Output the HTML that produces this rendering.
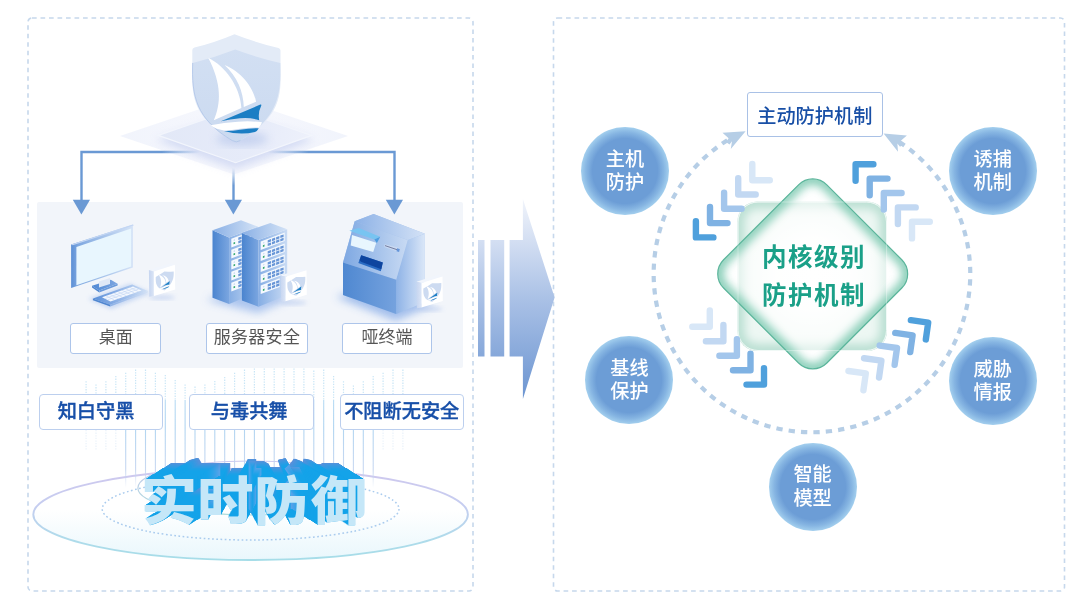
<!DOCTYPE html>
<html lang="zh-CN">
<head>
<meta charset="utf-8">
<title>实时防御</title>
<style>
html,body{margin:0;padding:0;background:#fff;}
body{width:1080px;height:611px;overflow:hidden;position:relative;
  font-family:"Liberation Sans","Noto Sans CJK SC",sans-serif;}
#stage{position:absolute;left:0;top:0;width:1080px;height:611px;overflow:hidden;will-change:transform;}
#stage svg.bg{position:absolute;left:0;top:0;}
.lab{position:absolute;box-sizing:border-box;background:#fff;border:1px solid #b3c8ea;border-radius:3px;
  text-align:center;color:#555;font-size:17px;line-height:28.500px;height:31px;width:92px;top:322.800px;border-color:#adc5ea;}
.blab{position:absolute;box-sizing:border-box;background:#fff;border:1px solid #b3c8ea;border-radius:4px;
  text-align:center;color:#174fa8;font-weight:500;-webkit-text-stroke:0.350px #174fa8;font-size:19.200px;line-height:34px;height:36.300px;width:124.500px;top:394px;border-color:#bccfee;}
.ball{position:absolute;width:88px;height:88px;border-radius:50%;
  background:radial-gradient(circle closest-side,#6c9dd6 0%,#6c9dd6 74%,#86b5e2 88%,#a3cfee 100%);
  color:#fff;font-weight:500;font-size:19.200px;line-height:23.200px;text-align:center;box-sizing:border-box;padding-top:20.700px;}
#topbox{position:absolute;left:746.700px;top:91.700px;width:136.200px;height:45.500px;box-sizing:border-box;background:#fff;
  border:1px solid #a9c1e6;border-radius:3px;text-align:center;color:#184fa6;font-weight:500;font-size:19.200px;line-height:42px;padding-top:3.200px;}
#core{position:absolute;left:714px;top:239.300px;width:200px;text-align:center;color:#1aa088;font-weight:700;
  font-size:24.500px;line-height:38px;letter-spacing:1.500px;}
#t3d{position:absolute;left:141.200px;top:464px;transform:scaleX(1.075);transform-origin:0 0;white-space:nowrap;font-weight:900;font-size:52px;line-height:76px;
  letter-spacing:0.600px;color:#c5e7f8;isolation:isolate;}
#t3d span{display:inline-block;mix-blend-mode:lighten;}
</style>
</head>
<body>
<div id="stage">
<svg class="bg" width="1080" height="611" viewBox="0 0 1080 611">
  <defs>
    <linearGradient id="gArrow" x1="0" y1="199" x2="0" y2="399" gradientUnits="userSpaceOnUse">
      <stop offset="0" stop-color="#f1f4fb"/>
      <stop offset="0.5" stop-color="#aac1e6"/>
      <stop offset="1" stop-color="#6c95d1"/>
    </linearGradient>
  </defs>
  <!-- panels -->
  <rect x="28" y="18" width="445" height="573" rx="4" fill="none" stroke="#c6d8ec" stroke-width="1.6" stroke-dasharray="4.700 3.800"/>
  <rect x="553.5" y="18" width="511" height="573" rx="4" fill="none" stroke="#c6d8ec" stroke-width="1.6" stroke-dasharray="4.700 3.800"/>
  <!-- gray box -->
  <rect x="37" y="202" width="426" height="166" rx="2" fill="#f2f5fa"/>
  <!-- big arrow -->
  <g fill="url(#gArrow)">
    <rect x="478" y="240" width="6.5" height="116.5"/>
    <rect x="490.5" y="240" width="13.7" height="116.5"/>
    <path d="M509.6 240H522.9V199L554.6 297.5L522.9 399V356.5H509.6Z"/>
  </g>
  <defs>
    <linearGradient id="gLineL" x1="81" y1="0" x2="200" y2="0" gradientUnits="userSpaceOnUse">
      <stop offset="0" stop-color="#6a99d4"/><stop offset="0.68" stop-color="#6a99d4"/><stop offset="1" stop-color="#6a99d4" stop-opacity="0"/>
    </linearGradient>
    <linearGradient id="gLineR" x1="395" y1="0" x2="268" y2="0" gradientUnits="userSpaceOnUse">
      <stop offset="0" stop-color="#6a99d4"/><stop offset="0.68" stop-color="#6a99d4"/><stop offset="1" stop-color="#6a99d4" stop-opacity="0"/>
    </linearGradient>
    <linearGradient id="gLineC" x1="0" y1="203" x2="0" y2="168" gradientUnits="userSpaceOnUse">
      <stop offset="0" stop-color="#6a99d4"/><stop offset="0.5" stop-color="#6a99d4"/><stop offset="1" stop-color="#6a99d4" stop-opacity="0"/>
    </linearGradient>
    <linearGradient id="gPlat" x1="158" y1="120" x2="312" y2="150" gradientUnits="userSpaceOnUse">
      <stop offset="0" stop-color="#e2e8f7"/><stop offset="0.6" stop-color="#e6ebf9"/><stop offset="1" stop-color="#eef1fb"/>
    </linearGradient>
    <linearGradient id="gOuterD" x1="120" y1="0" x2="348" y2="0" gradientUnits="userSpaceOnUse">
      <stop offset="0" stop-color="#f1f4fc"/><stop offset="0.5" stop-color="#f7f8fd"/><stop offset="1" stop-color="#f1f4fc"/>
    </linearGradient>
    <filter id="blur4" x="-20%" y="-20%" width="140%" height="140%"><feGaussianBlur stdDeviation="4"/></filter>
    <filter id="blur2" x="-20%" y="-20%" width="140%" height="140%"><feGaussianBlur stdDeviation="2"/></filter>
    <linearGradient id="gShield" x1="0" y1="34" x2="0" y2="141" gradientUnits="userSpaceOnUse">
      <stop offset="0" stop-color="#d3e0f3"/><stop offset="1" stop-color="#cbdaf0"/>
    </linearGradient>
  </defs>
  <!-- platform diamonds -->
  <path d="M120 136L234 97.500L348 136L234 174.500Z" fill="url(#gOuterD)"/>
  <path d="M156 140L235 114L314 140L235 170Z" fill="#bfcaee" opacity="0.6" filter="url(#blur4)"/>
  <path d="M158.400 135.400L235 109L311.600 135.400L235.600 162.700Z" fill="url(#gPlat)" stroke="#f2f5fc" stroke-width="1.200"/>
  <!-- connector lines -->
  <path d="M81.5 203V152H200" fill="none" stroke="url(#gLineL)" stroke-width="2.4"/>
  <path d="M394.5 203V152H268" fill="none" stroke="url(#gLineR)" stroke-width="2.4"/>
  <path d="M233.5 203V168" fill="none" stroke="url(#gLineC)" stroke-width="2.4"/>
  <g fill="#6a99d4">
    <path d="M72.8 199.8H90L81.4 214.4Z"/>
    <path d="M224.8 199.8H242L233.4 214.4Z"/>
    <path d="M385.8 199.8H403L394.4 214.4Z"/>
  </g>
  <!-- shield shadow -->
  <ellipse cx="242" cy="139" rx="26" ry="7" fill="#b4c4ea" opacity="0.6" filter="url(#blur4)"/>
  <!-- shield -->
  <g id="bigshield">
    <!-- back rim -->
    <path d="M192.3 50Q192.3 48 194.500 47.500Q215 42.500 234.500 34.200Q257 43 278.500 48Q280.500 48.500 280.500 50.500V72C281.500 100 277 119 240.500 140.500Q236.300 143.300 232.100 140.500C196 119 191.500 100 192.300 72Z" fill="#e3ebf7"/>
    <!-- face -->
    <path d="M192.700 62.900Q214 58 235.200 49.600Q258 58 280.300 62.900C281.500 96 277 119 240.500 140.500Q236.300 143.300 232.100 140.500C196 119 191.500 96 192.700 62.900Z" fill="url(#gShield)"/>
    <path d="M192.700 62.900C191.500 96 196 119 232.100 140.500Q236.300 143.300 240.500 140.500" fill="none" stroke="#afc4e8" stroke-width="1" opacity="0.8"/>
    <!-- sails -->
    <path d="M208.200 57.700C225 66 240 86 241.400 107.900L213.800 120.200C221 104 222 84 208.200 57.700Z" fill="#fff"/>
    <path d="M224.600 64.900C240 71 253 86 256.100 101.700L243.800 106.900C243.500 92 237 76 224.600 64.900Z" fill="#fff"/>
    <!-- hull -->
    <path d="M220.900 121.200L260.400 104.600Q261.800 104.200 261.200 105.800Q257.800 112.500 259.200 120.300Q250 117.200 240 118.300Q230 119.300 220.900 121.200Z" fill="#1b7ec4"/>
    <path d="M210.700 125.300Q224 122.500 238 121.700Q251 120.800 262 122.300Q261 125.500 258.800 127.500Q248 127 238 129Q230 130.800 224 130.400Q215 129 210.700 125.300Z" fill="#fff"/>
    <path d="M224 131Q232 131.200 240 129.800Q250 128 258.800 128.300Q257.500 131 255 132Q240 135.500 224 131Z" fill="#1b7ec4"/>
  </g>
  <defs>
    <linearGradient id="gMonFrame" x1="71" y1="0" x2="133" y2="0" gradientUnits="userSpaceOnUse">
      <stop offset="0" stop-color="#5b8fd6"/><stop offset="0.12" stop-color="#7fa8e0"/><stop offset="1" stop-color="#d5e3f7"/>
    </linearGradient>
    <linearGradient id="gKb" x1="93" y1="0" x2="148" y2="0" gradientUnits="userSpaceOnUse"><stop offset="0" stop-color="#5a8fd8"/><stop offset="0.45" stop-color="#8db1e6"/><stop offset="1" stop-color="#d3e2f6"/></linearGradient>
    <linearGradient id="gStand" x1="92" y1="0" x2="118" y2="0" gradientUnits="userSpaceOnUse"><stop offset="0" stop-color="#4f88d4"/><stop offset="1" stop-color="#7ea7e1"/></linearGradient>
    <linearGradient id="gBlueLR" x1="0" y1="0" x2="1" y2="0">
      <stop offset="0" stop-color="#5c90d6"/><stop offset="1" stop-color="#9dbdea"/>
    </linearGradient>
    <linearGradient id="gIconSide" x1="0" y1="0" x2="1" y2="0">
      <stop offset="0" stop-color="#c6d5f0"/><stop offset="1" stop-color="#dbe5f6"/>
    </linearGradient>
    <!-- small shield icon box (reused) : origin at top-left of front face -->
    <g id="iconbox">
      <ellipse cx="8" cy="26" rx="13" ry="2.500" fill="#b9cbee" opacity="0.6" filter="url(#blur2)"/>
      <path d="M-5 -1.300L16.700 -8.200L21 -6.600L0 0Z" fill="#f1f5fc"/>
      <path d="M-5 -1.300L0 0V24.500L-4.600 25.300Z" fill="url(#gIconSide)"/>
      <path d="M0 0L21 -6.600L21.300 18L0 24.500Z" fill="#fff"/>
      <g transform="translate(1.700,2.600) skewY(-17.400) scale(0.205)">
        <path d="M0.700 28.900Q22 24 43.200 15.600Q66 24 88.300 28.900C89.500 62 85 84 48 105.500Q44.300 107.800 40.600 105.500C4 84 -0.500 62 0.700 28.900Z" fill="#cddbf1" transform="translate(0,-14)"/>
        <path d="M16.200 9.700C33 18 48 38 49.400 59.900L21.800 72.200C29 56 30 36 16.200 9.700Z" fill="#fff"/>
        <path d="M32.600 16.900C48 23 61 38 64.100 53.700L51.800 58.900C51.500 44 45 28 32.600 16.900Z" fill="#fff"/>
        <path d="M28.900 73.200L68.400 56.600Q69.800 56.200 69.200 57.800Q65.800 64.500 67.200 72.300Q58 69.200 48 70.300Q38 71.300 28.900 73.200Z" fill="#1b7ec4"/>
        <path d="M18.700 77.300Q32 74.500 46 73.700Q59 72.800 70 74.300Q69 77.500 66.800 79.500Q56 79 46 81Q38 82.800 32 82.400Q23 81 18.700 77.300Z" fill="#fff"/>
        <path d="M32 83Q40 83.200 48 81.800Q58 80 66.800 80.300Q65.500 83 63 84Q48 87.500 32 83Z" fill="#1b7ec4"/>
      </g>
    </g>
  </defs>
  <!-- ===== monitor ===== -->
  <g id="monitor">
    <path d="M88 299L111 309L151 293L130 284Z" fill="#b5cbf0" opacity="0.7" filter="url(#blur2)"/>
    <!-- stand base -->
    <path d="M92 285.700L110.800 279.700L117.600 283.800L99.300 290.600Z" fill="url(#gStand)"/>
    <path d="M92 285.700L99.300 290.600V292.400L92 287.500Z" fill="#4f86d0"/>
    <path d="M99.300 290.600L117.600 283.800V285.600L99.300 292.400Z" fill="#6a9adb"/>
    <!-- neck -->
    <path d="M99 281.500L110 278V284L99 287.500Z" fill="#dfe8f6"/>
    <!-- frame -->
    <path d="M71.100 244.500L132.900 224.500V267.400L71.100 287.900Z" fill="url(#gMonFrame)"/>
    <path d="M71.100 244.500L132.900 224.500L134 225.200L72.800 245.200Z" fill="#c3d6f3"/>
    <!-- screen -->
    <path d="M76.400 246.900L131.200 228.500V266.400L76.400 285.200Z" fill="#e8f6fe"/>
    <!-- keyboard -->
    <path d="M92.900 298.500L132.200 284.400L147.900 291L110.200 304.700Z" fill="url(#gKb)"/>
    <path d="M92.900 298.500L110.200 304.700V306.500L92.900 300.300Z" fill="#4f86d0"/>
    <path d="M110.200 304.700L147.900 291V292.500L110.200 306.500Z" fill="url(#gKb)" opacity="0.8"/>
    <path d="M102 297.300L133 286.500L141.500 290.500L110.500 301.500Z" fill="#f4f8fe"/>
    <g stroke="#b9cef0" stroke-width="0.5" fill="none">
      <path d="M104.800 298.600L135.800 287.800M107.600 299.900L138.600 289.100"/>
      <path d="M106 295.900L114.500 300.100M110 294.500L118.500 298.700M114 293.100L122.500 297.300M118 291.700L126.500 295.900M122 290.300L130.500 294.500M126 288.900L134.500 293.100M130 287.500L138.500 291.700"/>
    </g>
    <use href="#iconbox" transform="translate(153.900,271.400)"/>
  </g>
  <defs>
    <linearGradient id="gSrvL" x1="0" y1="0" x2="1" y2="0">
      <stop offset="0" stop-color="#4a84cf"/><stop offset="1" stop-color="#7ba6e0"/>
    </linearGradient>
    <linearGradient id="gSrvR" x1="0" y1="0" x2="1" y2="0">
      <stop offset="0" stop-color="#86aee4"/><stop offset="1" stop-color="#c9dbf4"/>
    </linearGradient>
    <linearGradient id="gSrvT" x1="0" y1="0" x2="1" y2="0">
      <stop offset="0" stop-color="#8ab0e5"/><stop offset="1" stop-color="#d3e2f6"/>
    </linearGradient>
  </defs>
  <!-- ===== servers ===== -->
  <g id="servers">
    <path d="M206 300L258 313L294 297L246 286Z" fill="#9fbcec" opacity="0.85" filter="url(#blur4)"/>
    <g transform="translate(212.5,230.2)">
    <path d="M0 0L16.600 7.200V73.800L0 67.500Z" fill="url(#gSrvL)"/>
    <path d="M16.600 7.200L45.300 -3.600V62.100L16.600 73.800Z" fill="url(#gSrvR)"/>
    <path d="M0 0L28.500 -9.900L45.300 -3.600L16.600 7.200Z" fill="url(#gSrvT)"/>
    <path d="M18.8 8.6L42.8 -0.5V8.1L18.8 17.2Z" fill="#f5f9fe"/>
    <path d="M21.0 12.3L22.6 11.7V13.5L21.0 14.1Z" fill="#2ea56b"/>
    <path d="M21.2 9.5L22.4 9.0V10.2L21.2 10.7Z" fill="#b9cdee"/>
    <path d="M25.8 7.4L29.1 6.2V8.7L25.8 9.9Z" fill="#6896d7"/>
    <path d="M25.8 10.7L29.1 9.5V12.0L25.8 13.2Z" fill="#6896d7"/>
    <path d="M30.0 5.9L33.3 4.6V7.1L30.0 8.4Z" fill="#6896d7"/>
    <path d="M30.0 9.2L33.3 7.9V10.4L30.0 11.7Z" fill="#6896d7"/>
    <path d="M34.2 4.3L37.5 3.0V5.5L34.2 6.8Z" fill="#6896d7"/>
    <path d="M34.2 7.6L37.5 6.3V8.8L34.2 10.1Z" fill="#6896d7"/>
    <path d="M38.4 2.7L41.7 1.5V4.0L38.4 5.2Z" fill="#6896d7"/>
    <path d="M38.4 6.0L41.7 4.8V7.3L38.4 8.5Z" fill="#6896d7"/>
    <path d="M18.8 19.6L42.8 10.5V19.1L18.8 28.2Z" fill="#f5f9fe"/>
    <path d="M21.0 23.3L22.6 22.7V24.5L21.0 25.1Z" fill="#2ea56b"/>
    <path d="M21.2 20.5L22.4 20.0V21.2L21.2 21.7Z" fill="#b9cdee"/>
    <path d="M25.8 18.4L29.1 17.2V19.7L25.8 20.9Z" fill="#6896d7"/>
    <path d="M25.8 21.7L29.1 20.5V23.0L25.8 24.2Z" fill="#6896d7"/>
    <path d="M30.0 16.9L33.3 15.6V18.1L30.0 19.4Z" fill="#6896d7"/>
    <path d="M30.0 20.2L33.3 18.9V21.4L30.0 22.7Z" fill="#6896d7"/>
    <path d="M34.2 15.3L37.5 14.0V16.5L34.2 17.8Z" fill="#6896d7"/>
    <path d="M34.2 18.6L37.5 17.3V19.8L34.2 21.1Z" fill="#6896d7"/>
    <path d="M38.4 13.7L41.7 12.5V15.0L38.4 16.2Z" fill="#6896d7"/>
    <path d="M38.4 17.0L41.7 15.8V18.3L38.4 19.5Z" fill="#6896d7"/>
    <path d="M18.8 30.6L42.8 21.5V30.1L18.8 39.2Z" fill="#f5f9fe"/>
    <path d="M21.0 34.3L22.6 33.7V35.5L21.0 36.1Z" fill="#2ea56b"/>
    <path d="M21.2 31.5L22.4 31.0V32.2L21.2 32.7Z" fill="#b9cdee"/>
    <path d="M25.8 29.4L29.1 28.2V30.7L25.8 31.9Z" fill="#6896d7"/>
    <path d="M25.8 32.7L29.1 31.5V34.0L25.8 35.2Z" fill="#6896d7"/>
    <path d="M30.0 27.9L33.3 26.6V29.1L30.0 30.4Z" fill="#6896d7"/>
    <path d="M30.0 31.2L33.3 29.9V32.4L30.0 33.7Z" fill="#6896d7"/>
    <path d="M34.2 26.3L37.5 25.0V27.5L34.2 28.8Z" fill="#6896d7"/>
    <path d="M34.2 29.6L37.5 28.3V30.8L34.2 32.1Z" fill="#6896d7"/>
    <path d="M38.4 24.7L41.7 23.5V26.0L38.4 27.2Z" fill="#6896d7"/>
    <path d="M38.4 28.0L41.7 26.8V29.3L38.4 30.5Z" fill="#6896d7"/>
    <path d="M18.8 41.6L42.8 32.5V41.1L18.8 50.2Z" fill="#f5f9fe"/>
    <path d="M21.0 45.3L22.6 44.7V46.5L21.0 47.1Z" fill="#2ea56b"/>
    <path d="M21.2 42.5L22.4 42.0V43.2L21.2 43.7Z" fill="#b9cdee"/>
    <path d="M25.8 40.4L29.1 39.2V41.7L25.8 42.9Z" fill="#6896d7"/>
    <path d="M25.8 43.7L29.1 42.5V45.0L25.8 46.2Z" fill="#6896d7"/>
    <path d="M30.0 38.9L33.3 37.6V40.1L30.0 41.4Z" fill="#6896d7"/>
    <path d="M30.0 42.2L33.3 40.9V43.4L30.0 44.7Z" fill="#6896d7"/>
    <path d="M34.2 37.3L37.5 36.0V38.5L34.2 39.8Z" fill="#6896d7"/>
    <path d="M34.2 40.6L37.5 39.3V41.8L34.2 43.1Z" fill="#6896d7"/>
    <path d="M38.4 35.7L41.7 34.5V37.0L38.4 38.2Z" fill="#6896d7"/>
    <path d="M38.4 39.0L41.7 37.8V40.3L38.4 41.5Z" fill="#6896d7"/>
    <path d="M18.8 52.6L37.8 45.4V54.0L18.8 61.2Z" fill="#f5f9fe"/>
    <path d="M21.0 56.3L22.6 55.7V57.5L21.0 58.1Z" fill="#2ea56b"/>
    <path d="M21.2 53.5L22.4 53.0V54.2L21.2 54.7Z" fill="#b9cdee"/>
    <path d="M25.8 51.4L29.1 50.2V52.7L25.8 53.9Z" fill="#6896d7"/>
    <path d="M25.8 54.7L29.1 53.5V56.0L25.8 57.2Z" fill="#6896d7"/>
    <path d="M30.0 49.9L33.3 48.6V51.1L30.0 52.4Z" fill="#6896d7"/>
    <path d="M30.0 53.2L33.3 51.9V54.4L30.0 55.7Z" fill="#6896d7"/>
    <path d="M34.2 48.3L37.5 47.0V49.5L34.2 50.8Z" fill="#6896d7"/>
    <path d="M34.2 51.6L37.5 50.3V52.8L34.2 54.1Z" fill="#6896d7"/>
    </g>
    <g transform="translate(241.9,232.9)">
    <path d="M0 0L16.600 7.200V73.800L0 67.500Z" fill="url(#gSrvL)"/>
    <path d="M16.600 7.200L45.300 -3.600V62.100L16.600 73.800Z" fill="url(#gSrvR)"/>
    <path d="M0 0L28.500 -9.900L45.300 -3.600L16.600 7.200Z" fill="url(#gSrvT)"/>
    <path d="M18.8 8.6L42.8 -0.5V8.1L18.8 17.2Z" fill="#f5f9fe"/>
    <path d="M21.0 12.3L22.6 11.7V13.5L21.0 14.1Z" fill="#2ea56b"/>
    <path d="M21.2 9.5L22.4 9.0V10.2L21.2 10.7Z" fill="#b9cdee"/>
    <path d="M25.8 7.4L29.1 6.2V8.7L25.8 9.9Z" fill="#6896d7"/>
    <path d="M25.8 10.7L29.1 9.5V12.0L25.8 13.2Z" fill="#6896d7"/>
    <path d="M30.0 5.9L33.3 4.6V7.1L30.0 8.4Z" fill="#6896d7"/>
    <path d="M30.0 9.2L33.3 7.9V10.4L30.0 11.7Z" fill="#6896d7"/>
    <path d="M34.2 4.3L37.5 3.0V5.5L34.2 6.8Z" fill="#6896d7"/>
    <path d="M34.2 7.6L37.5 6.3V8.8L34.2 10.1Z" fill="#6896d7"/>
    <path d="M38.4 2.7L41.7 1.5V4.0L38.4 5.2Z" fill="#6896d7"/>
    <path d="M38.4 6.0L41.7 4.8V7.3L38.4 8.5Z" fill="#6896d7"/>
    <path d="M18.8 19.6L42.8 10.5V19.1L18.8 28.2Z" fill="#f5f9fe"/>
    <path d="M21.0 23.3L22.6 22.7V24.5L21.0 25.1Z" fill="#2ea56b"/>
    <path d="M21.2 20.5L22.4 20.0V21.2L21.2 21.7Z" fill="#b9cdee"/>
    <path d="M25.8 18.4L29.1 17.2V19.7L25.8 20.9Z" fill="#6896d7"/>
    <path d="M25.8 21.7L29.1 20.5V23.0L25.8 24.2Z" fill="#6896d7"/>
    <path d="M30.0 16.9L33.3 15.6V18.1L30.0 19.4Z" fill="#6896d7"/>
    <path d="M30.0 20.2L33.3 18.9V21.4L30.0 22.7Z" fill="#6896d7"/>
    <path d="M34.2 15.3L37.5 14.0V16.5L34.2 17.8Z" fill="#6896d7"/>
    <path d="M34.2 18.6L37.5 17.3V19.8L34.2 21.1Z" fill="#6896d7"/>
    <path d="M38.4 13.7L41.7 12.5V15.0L38.4 16.2Z" fill="#6896d7"/>
    <path d="M38.4 17.0L41.7 15.8V18.3L38.4 19.5Z" fill="#6896d7"/>
    <path d="M18.8 30.6L42.8 21.5V30.1L18.8 39.2Z" fill="#f5f9fe"/>
    <path d="M21.0 34.3L22.6 33.7V35.5L21.0 36.1Z" fill="#2ea56b"/>
    <path d="M21.2 31.5L22.4 31.0V32.2L21.2 32.7Z" fill="#b9cdee"/>
    <path d="M25.8 29.4L29.1 28.2V30.7L25.8 31.9Z" fill="#6896d7"/>
    <path d="M25.8 32.7L29.1 31.5V34.0L25.8 35.2Z" fill="#6896d7"/>
    <path d="M30.0 27.9L33.3 26.6V29.1L30.0 30.4Z" fill="#6896d7"/>
    <path d="M30.0 31.2L33.3 29.9V32.4L30.0 33.7Z" fill="#6896d7"/>
    <path d="M34.2 26.3L37.5 25.0V27.5L34.2 28.8Z" fill="#6896d7"/>
    <path d="M34.2 29.6L37.5 28.3V30.8L34.2 32.1Z" fill="#6896d7"/>
    <path d="M38.4 24.7L41.7 23.5V26.0L38.4 27.2Z" fill="#6896d7"/>
    <path d="M38.4 28.0L41.7 26.8V29.3L38.4 30.5Z" fill="#6896d7"/>
    <path d="M18.8 41.6L42.8 32.5V41.1L18.8 50.2Z" fill="#f5f9fe"/>
    <path d="M21.0 45.3L22.6 44.7V46.5L21.0 47.1Z" fill="#2ea56b"/>
    <path d="M21.2 42.5L22.4 42.0V43.2L21.2 43.7Z" fill="#b9cdee"/>
    <path d="M25.8 40.4L29.1 39.2V41.7L25.8 42.9Z" fill="#6896d7"/>
    <path d="M25.8 43.7L29.1 42.5V45.0L25.8 46.2Z" fill="#6896d7"/>
    <path d="M30.0 38.9L33.3 37.6V40.1L30.0 41.4Z" fill="#6896d7"/>
    <path d="M30.0 42.2L33.3 40.9V43.4L30.0 44.7Z" fill="#6896d7"/>
    <path d="M34.2 37.3L37.5 36.0V38.5L34.2 39.8Z" fill="#6896d7"/>
    <path d="M34.2 40.6L37.5 39.3V41.8L34.2 43.1Z" fill="#6896d7"/>
    <path d="M38.4 35.7L41.7 34.5V37.0L38.4 38.2Z" fill="#6896d7"/>
    <path d="M38.4 39.0L41.7 37.8V40.3L38.4 41.5Z" fill="#6896d7"/>
    <path d="M18.8 52.6L37.8 45.4V54.0L18.8 61.2Z" fill="#f5f9fe"/>
    <path d="M21.0 56.3L22.6 55.7V57.5L21.0 58.1Z" fill="#2ea56b"/>
    <path d="M21.2 53.5L22.4 53.0V54.2L21.2 54.7Z" fill="#b9cdee"/>
    <path d="M25.8 51.4L29.1 50.2V52.7L25.8 53.9Z" fill="#6896d7"/>
    <path d="M25.8 54.7L29.1 53.5V56.0L25.8 57.2Z" fill="#6896d7"/>
    <path d="M30.0 49.9L33.3 48.6V51.1L30.0 52.4Z" fill="#6896d7"/>
    <path d="M30.0 53.2L33.3 51.9V54.4L30.0 55.7Z" fill="#6896d7"/>
    <path d="M34.2 48.3L37.5 47.0V49.5L34.2 50.8Z" fill="#6896d7"/>
    <path d="M34.2 51.6L37.5 50.3V52.8L34.2 54.1Z" fill="#6896d7"/>
    </g>
    <use href="#iconbox" transform="translate(285.500,276.800)"/>
  </g>
  <defs>
    <linearGradient id="gTermTop" x1="354" y1="0" x2="425" y2="0" gradientUnits="userSpaceOnUse">
      <stop offset="0" stop-color="#8cb1e6"/><stop offset="1" stop-color="#d4e2f6"/>
    </linearGradient>
    <linearGradient id="gTermSl" x1="343" y1="0" x2="408" y2="0" gradientUnits="userSpaceOnUse">
      <stop offset="0" stop-color="#7ea8e2"/><stop offset="1" stop-color="#c8daf3"/>
    </linearGradient>
    <linearGradient id="gTermFr" x1="343" y1="0" x2="396" y2="0" gradientUnits="userSpaceOnUse">
      <stop offset="0" stop-color="#4f88d1"/><stop offset="1" stop-color="#75a2de"/>
    </linearGradient>
    <linearGradient id="gTermSide" x1="396" y1="0" x2="425" y2="0" gradientUnits="userSpaceOnUse">
      <stop offset="0" stop-color="#8db2e6"/><stop offset="1" stop-color="#dbe7f8"/>
    </linearGradient>
  </defs>
  <!-- ===== terminal ===== -->
  <g id="terminal">
    <path d="M336 297L396 321L434 304L374 284Z" fill="#98b7ea" opacity="0.9" filter="url(#blur4)"/>
    <!-- backing to hide seams -->
    <path d="M354.700 221.200L373.600 214L424.900 233.800V302.200L396.100 313.900L343 295V262.600Z" fill="#a3c0ea"/>
    <!-- side -->
    <path d="M407.800 240.100L424.900 233.800V302.200L396.100 313.900V279.700Z" fill="url(#gTermSide)"/>
    <!-- top -->
    <path d="M354.700 221.200L373.600 214L424.900 233.800L407.800 240.100Z" fill="url(#gTermTop)"/>
    <!-- slanted front -->
    <path d="M354.700 221.200L407.800 240.100L396.100 279.700L343 262.600Z" fill="url(#gTermSl)"/>
    <!-- lower front -->
    <path d="M343 262.600L396.100 279.700V313.900L343 295Z" fill="url(#gTermFr)"/>
    <!-- screen -->
    <path d="M352 234.900L376.200 242.700L373.200 252.100L350.700 245.600Z" fill="#e8f6fe"/>
    <path d="M349.400 230.700L358.600 228.100L380.200 236.800L374.300 239.500Z" fill="#78c4f1"/>
    <path d="M380.200 236.800L374.300 239.500L376.900 243Z" fill="#4d9de0"/>
    <!-- card slot -->
    <path d="M384.700 244.300L399.800 248L399.100 252.100L384.400 246.900Z" fill="#c9d9f1"/>
    <path d="M385 245.600L398 250" stroke="#6a7396" stroke-width="0.900" fill="none"/>
    <path d="M397 248.300L399.800 249L399.100 252.100L396.500 251.200Z" fill="#6596da"/>
    <!-- opening -->
    <path d="M361.200 255.200L382.800 262.400L380.800 271.300L358.300 263Z" fill="#2a6cc4"/>
    <path d="M361.200 255.200L382.800 262.400L381.300 269.200L361 261.800L359.500 260.200Z" fill="#0e459f"/>
    <use href="#iconbox" transform="translate(421.500,283.000)"/>
  </g>
  <defs>
    <linearGradient id="gVl" x1="0" y1="395" x2="0" y2="488" gradientUnits="userSpaceOnUse">
      <stop offset="0" stop-color="#a9d4f1" stop-opacity="0.8"/>
      <stop offset="0.35" stop-color="#b1d5f1" stop-opacity="1"/>
      <stop offset="0.8" stop-color="#c3d4f0" stop-opacity="0.9"/>
      <stop offset="1" stop-color="#c3d4f0" stop-opacity="0"/>
    </linearGradient>
    <linearGradient id="gVd" x1="0" y1="366" x2="0" y2="460" gradientUnits="userSpaceOnUse">
      <stop offset="0" stop-color="#bfe0f5" stop-opacity="0.9"/>
      <stop offset="0.5" stop-color="#bfe0f5" stop-opacity="0.7"/>
      <stop offset="1" stop-color="#bfe0f5" stop-opacity="0"/>
    </linearGradient>
    <linearGradient id="gEllFill" x1="0" y1="469" x2="0" y2="560" gradientUnits="userSpaceOnUse">
      <stop offset="0" stop-color="#ffffff"/><stop offset="0.45" stop-color="#ffffff"/><stop offset="1" stop-color="#e9f7fc"/>
    </linearGradient>
    <linearGradient id="gEllStroke" x1="0" y1="469" x2="0" y2="560" gradientUnits="userSpaceOnUse">
      <stop offset="0" stop-color="#cfc8ee"/><stop offset="0.4" stop-color="#c6cdf0"/><stop offset="0.75" stop-color="#b0dbeb"/><stop offset="1" stop-color="#a6dde8"/>
    </linearGradient>
    <linearGradient id="gEllStroke2" x1="0" y1="461" x2="0" y2="515" gradientUnits="userSpaceOnUse">
      <stop offset="0" stop-color="#cdc9ef"/><stop offset="1" stop-color="#a8dbd9"/>
    </linearGradient>
  </defs>
  <!-- ===== bottom-left: ellipse platform + vertical lines ===== -->
  <ellipse cx="250.600" cy="514.400" rx="217.300" ry="45.600" fill="url(#gEllFill)" stroke="url(#gEllStroke)" stroke-width="1.900"/>
  <ellipse cx="250.600" cy="509" rx="148.400" ry="31" fill="none" stroke="#a9cbee" stroke-width="1.500" stroke-dasharray="1.700 2.500"/>
  <ellipse cx="250.600" cy="488" rx="112.700" ry="27" fill="none" stroke="url(#gEllStroke2)" stroke-width="1.200"/>
  <path d="M86.1 381.3V396M96.0 384.5V396M105.9 381.3V396M115.8 376.0V396M125.7 372.8V400M135.6 369.6V400M145.5 369.6V400M155.4 372.8V400M165.3 375.0V400M175.2 380.0V400M185.1 384.5V400M195.0 386.6V400M204.9 384.5V400M214.8 381.0V400M224.7 377.0V400M234.6 372.8V400M244.5 369.6V400M254.4 368.5V400M264.3 368.5V400M274.2 368.5V400M284.1 368.5V400M294.0 368.5V400M303.9 368.5V400M313.8 370.6V400M323.7 369.6V400M333.6 376.0V400M343.5 381.3V400M353.4 385.5V400M363.3 381.3V400M373.2 376.0V400M383.1 372.8V396M393.0 369.6V396M402.9 369.6V396" fill="none" stroke="#b5dcf3" stroke-opacity="0.75" stroke-width="1.200" stroke-dasharray="1.300 1.300"/>
  <path d="M86.1 430V450M96.0 430V450M105.9 430V450M115.8 430V450M383.1 430V450M393.0 430V450M402.9 430V450" fill="none" stroke="#c9def3" stroke-opacity="0.4" stroke-width="1.200" stroke-dasharray="1.300 1.300"/>
  <path d="M125.7 400V488M135.6 400V488M145.5 400V488M155.4 400V488M165.3 400V488M175.2 400V488M185.1 400V488M195.0 400V488M204.9 400V488M214.8 400V488M224.7 400V488M234.6 400V488M244.5 400V488M254.4 400V488M264.3 400V488M274.2 400V488M284.1 400V488M294.0 400V488M303.9 400V488M313.8 400V488M323.7 400V488M333.6 400V488M343.5 400V488M353.4 400V488M363.3 400V488M373.2 400V488" fill="none" stroke="url(#gVl)" stroke-width="1.100"/>
  <!--ILLUSTRATIONS-->
  <defs>
    <radialGradient id="gDia" cx="0.5" cy="0.5" r="0.5">
      <stop offset="0" stop-color="#ffffff" stop-opacity="1"/>
      <stop offset="0.5" stop-color="#ffffff" stop-opacity="0.95"/>
      <stop offset="1" stop-color="#ffffff" stop-opacity="0.6"/>
    </radialGradient>
    <filter id="blur5" x="-20%" y="-20%" width="140%" height="140%"><feGaussianBlur stdDeviation="5"/></filter>
    <filter id="blur8" x="-20%" y="-20%" width="140%" height="140%"><feGaussianBlur stdDeviation="7"/></filter>
    <clipPath id="clipDia"><rect x="-73" y="-73" width="146" height="146" rx="20"/></clipPath>
    <clipPath id="clipSq"><rect x="737.5" y="201.500" width="149.500" height="149.500" rx="20"/></clipPath>
  </defs>
  <!-- ===== right panel ===== -->
  <!-- dashed circle -->
  <path d="M727.3 140.2A158.3 158.3 0 1 0 899.1 141.8" fill="none" stroke="#b6cee6" stroke-width="4.200" stroke-dasharray="6.300 6.100"/>
  <path d="M745.600 131.200L722.500 132.700L728.600 138.200L726 142L729.500 144.500L732 141.200L730.800 149.100Z" fill="#b6cee6"/>
  <path d="M883.600 133.400L906.900 135.600L900.800 140.800L903.500 144.300L900 146.800L897.400 143.600L898 151.700Z" fill="#b6cee6"/>
  
  <!-- square (behind) -->
  <rect x="737.5" y="201.500" width="149.500" height="149.500" rx="20" fill="#edf7f3"/>
  <g clip-path="url(#clipSq)"><rect x="737.5" y="201.500" width="149.500" height="149.500" rx="20" fill="none" stroke="#b9dfd2" stroke-width="14" filter="url(#blur5)"/></g>
  <rect x="738" y="202" width="148.500" height="148.500" rx="20" fill="none" stroke="#eaf6f2" stroke-width="1"/>
  <!-- diamond -->
  <g transform="translate(812.700,273.900) rotate(45)">
    <rect x="-73" y="-73" width="146" height="146" rx="20" fill="url(#gDia)"/>
    <g clip-path="url(#clipDia)">
      <rect x="-73" y="-73" width="146" height="146" rx="20" fill="none" stroke="#7fcab2" stroke-width="11" filter="url(#blur5)"/>
    </g>
    <rect x="-73" y="-73" width="146" height="146" rx="20" fill="none" stroke="#5bb59b" stroke-width="1.200"/>
  </g>
  <rect x="738" y="202" width="148.500" height="148.500" rx="20" fill="none" stroke="#ffffff" stroke-opacity="0.3" stroke-width="1"/>
  <g fill="none" stroke-width="6.400" stroke-linecap="round" stroke-linejoin="round">
    <path d="M873.4 164.2H855.6V180.8" stroke="#4fa0dc"/>
    <path d="M887.5 178.6H869.7V195.2" stroke="#7fb2e3"/>
    <path d="M901.6 193.0H883.8V209.6" stroke="#a3c6ec"/>
    <path d="M915.7 207.4H897.9V224.0" stroke="#c2d8f2"/>
    <path d="M929.8 221.8H912.0V238.4" stroke="#d8e7f7"/>
    <path d="M713.4 237.4H695.9V221.2" stroke="#4fa0dc"/>
    <path d="M727.5 223.1H710.0V206.9" stroke="#7fb2e3"/>
    <path d="M741.6 208.8H724.1V192.6" stroke="#a3c6ec"/>
    <path d="M755.7 194.5H738.2V178.3" stroke="#c2d8f2"/>
    <path d="M769.8 180.2H752.3V164.0" stroke="#d8e7f7"/>
    <path d="M746.5 384.6H764.0V368.2" stroke="#4fa0dc"/>
    <path d="M733.0 370.2H750.5V353.8" stroke="#7fb2e3"/>
    <path d="M719.4 355.7H736.9V339.3" stroke="#a3c6ec"/>
    <path d="M705.9 341.2H723.4V324.9" stroke="#c2d8f2"/>
    <path d="M692.3 326.8H709.8V310.4" stroke="#d8e7f7"/>
    <path d="M910.7 322.6H928.2V339.6" stroke="#4fa0dc" transform="rotate(8 928.2 322.6)"/>
    <path d="M895.1 335.3H912.6V352.3" stroke="#7fb2e3" transform="rotate(8 912.6 335.3)"/>
    <path d="M879.5 348.0H897.0V365.0" stroke="#a3c6ec" transform="rotate(8 897.0 348.0)"/>
    <path d="M863.9 360.7H881.4V377.7" stroke="#c2d8f2" transform="rotate(8 881.4 360.7)"/>
    <path d="M848.3 373.4H865.8V390.4" stroke="#d8e7f7" transform="rotate(8 865.8 373.4)"/>
  </g>
  <!--RIGHT-->
</svg>
<div class="lab" style="left:70.300px;width:91px">桌面</div>
<div class="lab" style="left:206.100px;width:101.700px;letter-spacing:0.300px">服务器安全</div>
<div class="lab" style="left:341.800px;width:90.600px">哑终端</div>
<div class="blab" style="left:38.800px;padding-right:10px">知白守黑</div>
<div class="blab" style="left:189.200px;padding-right:4.500px">与毒共舞</div>
<div class="blab" style="left:339.500px">不阻断无安全</div>
<div id="topbox">主动防护机制</div>
<div class="ball" style="left:581px;top:127.300px">主机<br>防护</div>
<div class="ball" style="left:948.800px;top:127.200px">诱捕<br>机制</div>
<div class="ball" style="left:585.400px;top:335.900px">基线<br>保护</div>
<div class="ball" style="left:948.800px;top:337.200px">威胁<br>情报</div>
<div class="ball" style="left:768.600px;top:442.800px">智能<br>模型</div>
<div id="core">内核级别<br>防护机制</div>
<div id="t3d"><span style="text-shadow:0.69px -0.46px 0 #14a3e9,1.39px -0.92px 0 #14a3e9,2.08px -1.38px 0 #14a3e9,2.78px -1.83px 0 #14a3e9,3.47px -2.29px 0 #14a3e9,4.17px -2.75px 0 #14a3e9,4.86px -3.21px 0 #14a3e9,5.56px -3.67px 0 #14a3e9,6.25px -4.12px 0 #14a3e9,6.94px -4.58px 0 #14a3e9,7.64px -5.04px 0 #14a3e9,8.33px -5.50px 0 #14a3e9,9.03px -5.96px 0 #14a3e9,9.72px -6.42px 0 #14a3e9,10.42px -6.88px 0 #14a3e9,11.11px -7.33px 0 #14a3e9,11.81px -7.79px 0 #14a3e9,12.50px -8.25px 0 #16a3e9,13.19px -8.71px 0 #17a2e8,13.89px -9.17px 0 #19a2e8,14.58px -9.62px 0 #1ba1e7,15.28px -10.08px 0 #1ea0e7,15.97px -10.54px 0 #219fe6,16.67px -11.00px 0 #249ee5,17.36px -11.46px 0 #289ee5,18.06px -11.92px 0 #2b9de4,18.75px -12.38px 0 #2f9be3,19.44px -12.83px 0 #339ae2,20.14px -13.29px 0 #3899e1,20.83px -13.75px 0 #3c98e0,21.53px -14.21px 0 #4196df,22.22px -14.67px 0 #4695de,22.92px -15.12px 0 #4b94dd,23.61px -15.58px 0 #5192dc,24.31px -16.04px 0 #5691da,25.00px -16.50px 0 #5c8fd9">实</span><span style="text-shadow:0.24px -0.46px 0 #14a3e9,0.47px -0.92px 0 #14a3e9,0.71px -1.38px 0 #14a3e9,0.94px -1.83px 0 #14a3e9,1.18px -2.29px 0 #14a3e9,1.42px -2.75px 0 #14a3e9,1.65px -3.21px 0 #14a3e9,1.89px -3.67px 0 #14a3e9,2.12px -4.12px 0 #14a3e9,2.36px -4.58px 0 #14a3e9,2.60px -5.04px 0 #14a3e9,2.83px -5.50px 0 #14a3e9,3.07px -5.96px 0 #14a3e9,3.31px -6.42px 0 #14a3e9,3.54px -6.88px 0 #14a3e9,3.78px -7.33px 0 #14a3e9,4.01px -7.79px 0 #14a3e9,4.25px -8.25px 0 #16a3e9,4.49px -8.71px 0 #17a2e8,4.72px -9.17px 0 #19a2e8,4.96px -9.62px 0 #1ba1e7,5.19px -10.08px 0 #1ea0e7,5.43px -10.54px 0 #219fe6,5.67px -11.00px 0 #249ee5,5.90px -11.46px 0 #289ee5,6.14px -11.92px 0 #2b9de4,6.38px -12.38px 0 #2f9be3,6.61px -12.83px 0 #339ae2,6.85px -13.29px 0 #3899e1,7.08px -13.75px 0 #3c98e0,7.32px -14.21px 0 #4196df,7.56px -14.67px 0 #4695de,7.79px -15.12px 0 #4b94dd,8.03px -15.58px 0 #5192dc,8.26px -16.04px 0 #5691da,8.50px -16.50px 0 #5c8fd9">时</span><span style="text-shadow:-0.24px -0.46px 0 #14a3e9,-0.47px -0.92px 0 #14a3e9,-0.71px -1.38px 0 #14a3e9,-0.94px -1.83px 0 #14a3e9,-1.18px -2.29px 0 #14a3e9,-1.42px -2.75px 0 #14a3e9,-1.65px -3.21px 0 #14a3e9,-1.89px -3.67px 0 #14a3e9,-2.12px -4.12px 0 #14a3e9,-2.36px -4.58px 0 #14a3e9,-2.60px -5.04px 0 #14a3e9,-2.83px -5.50px 0 #14a3e9,-3.07px -5.96px 0 #14a3e9,-3.31px -6.42px 0 #14a3e9,-3.54px -6.88px 0 #14a3e9,-3.78px -7.33px 0 #14a3e9,-4.01px -7.79px 0 #14a3e9,-4.25px -8.25px 0 #16a3e9,-4.49px -8.71px 0 #17a2e8,-4.72px -9.17px 0 #19a2e8,-4.96px -9.62px 0 #1ba1e7,-5.19px -10.08px 0 #1ea0e7,-5.43px -10.54px 0 #219fe6,-5.67px -11.00px 0 #249ee5,-5.90px -11.46px 0 #289ee5,-6.14px -11.92px 0 #2b9de4,-6.38px -12.38px 0 #2f9be3,-6.61px -12.83px 0 #339ae2,-6.85px -13.29px 0 #3899e1,-7.08px -13.75px 0 #3c98e0,-7.32px -14.21px 0 #4196df,-7.56px -14.67px 0 #4695de,-7.79px -15.12px 0 #4b94dd,-8.03px -15.58px 0 #5192dc,-8.26px -16.04px 0 #5691da,-8.50px -16.50px 0 #5c8fd9">防</span><span style="text-shadow:-0.69px -0.46px 0 #14a3e9,-1.39px -0.92px 0 #14a3e9,-2.08px -1.38px 0 #14a3e9,-2.78px -1.83px 0 #14a3e9,-3.47px -2.29px 0 #14a3e9,-4.17px -2.75px 0 #14a3e9,-4.86px -3.21px 0 #14a3e9,-5.56px -3.67px 0 #14a3e9,-6.25px -4.12px 0 #14a3e9,-6.94px -4.58px 0 #14a3e9,-7.64px -5.04px 0 #14a3e9,-8.33px -5.50px 0 #14a3e9,-9.03px -5.96px 0 #14a3e9,-9.72px -6.42px 0 #14a3e9,-10.42px -6.88px 0 #14a3e9,-11.11px -7.33px 0 #14a3e9,-11.81px -7.79px 0 #14a3e9,-12.50px -8.25px 0 #16a3e9,-13.19px -8.71px 0 #17a2e8,-13.89px -9.17px 0 #19a2e8,-14.58px -9.62px 0 #1ba1e7,-15.28px -10.08px 0 #1ea0e7,-15.97px -10.54px 0 #219fe6,-16.67px -11.00px 0 #249ee5,-17.36px -11.46px 0 #289ee5,-18.06px -11.92px 0 #2b9de4,-18.75px -12.38px 0 #2f9be3,-19.44px -12.83px 0 #339ae2,-20.14px -13.29px 0 #3899e1,-20.83px -13.75px 0 #3c98e0,-21.53px -14.21px 0 #4196df,-22.22px -14.67px 0 #4695de,-22.92px -15.12px 0 #4b94dd,-23.61px -15.58px 0 #5192dc,-24.31px -16.04px 0 #5691da,-25.00px -16.50px 0 #5c8fd9">御</span></div>
<!--HTMLTEXT-->
</div>
</body>
</html>
